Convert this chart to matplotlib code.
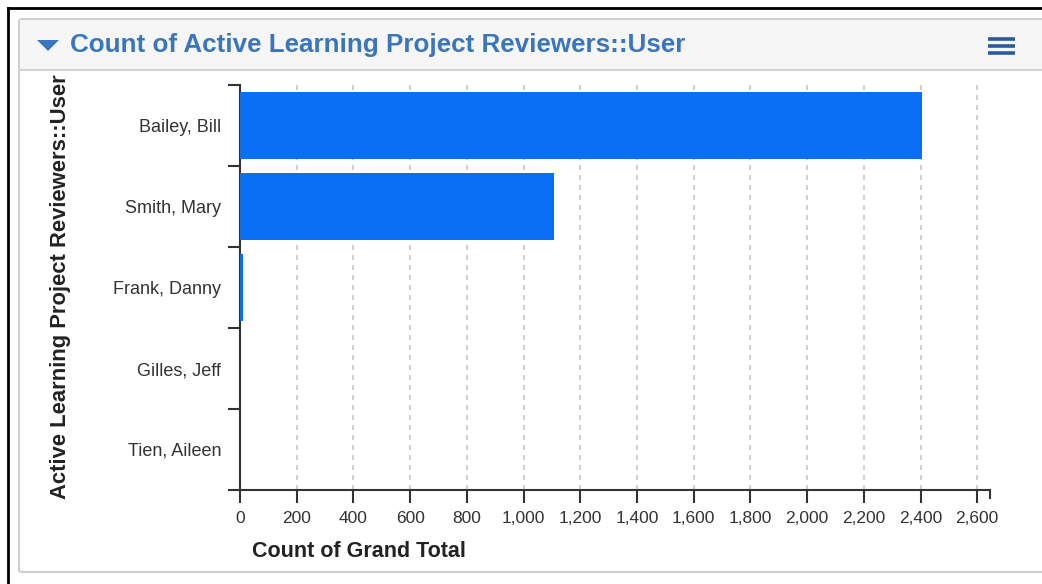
import matplotlib
matplotlib.use("Agg")
import matplotlib.pyplot as plt
from matplotlib.patches import FancyBboxPatch, Rectangle, Polygon
from matplotlib.lines import Line2D
from matplotlib.ticker import FuncFormatter, MultipleLocator

plt.rcParams['font.family'] = ['Liberation Sans', 'DejaVu Sans']

# data
reviewers = ['Bailey, Bill', 'Smith, Mary', 'Frank, Danny', 'Gilles, Jeff', 'Tien, Aileen']
counts = [2405, 1107, 10, 0, 0]

titulo = 'Count of Active Learning Project Reviewers::User'
rotulo_y = 'Active Learning Project Reviewers::User'
rotulo_x = 'Count of Grand Total'

W, H = 1042, 584
fig = plt.figure(figsize=(W / 100, H / 100), dpi=100)
fig.patch.set_facecolor('white')

def fx(px):
    return px / W

def fy(py):
    return 1 - py / H

# moldura preta externa
fig.add_artist(Line2D([fx(8), fx(8)], [fy(8), fy(584)], color='black', lw=2, transform=fig.transFigure, zorder=-5))
fig.add_artist(Line2D([fx(8), 1], [fy(8), fy(8)], color='black', lw=2, transform=fig.transFigure, zorder=-5))

# painel
painel = FancyBboxPatch((fx(19), fy(572)), fx(1050) - fx(19), fy(19) - fy(572),
                        boxstyle='round,pad=0,rounding_size=0.004', transform=fig.transFigure,
                        facecolor='white', edgecolor='#cfcfcf', lw=1.5, zorder=-5)
fig.add_artist(painel)
cabecalho = Rectangle((fx(20), fy(70)), fx(1050) - fx(20), fy(20) - fy(70), transform=fig.transFigure,
                      facecolor='#f6f6f6', edgecolor='none', zorder=-4)
fig.add_artist(cabecalho)
fig.add_artist(Line2D([fx(20), 1], [fy(70), fy(70)], color='#d4d4d4', lw=1.5,
                      transform=fig.transFigure, zorder=-3))

# triangulo e titulo
tri = Polygon([[fx(37), fy(40)], [fx(59), fy(40)], [fx(48), fy(51)]], closed=True,
              transform=fig.transFigure, facecolor='#3a76bf', edgecolor='none')
fig.add_artist(tri)
fig.text(fx(70), fy(45), titulo, color='#3a76bf', fontsize=18.7, fontweight='bold',
         va='center', ha='left')

# menu
for yy in [39, 46, 53]:
    fig.add_artist(Line2D([fx(988), fx(1015)], [fy(yy), fy(yy)], color='#2b5b9c', lw=2.6,
                          transform=fig.transFigure, solid_capstyle='butt'))

# eixo
ax = fig.add_axes([fx(240), fy(490), fx(990) - fx(240), fy(85) - fy(490)])
ax.set_zorder(5)
ax.patch.set_alpha(0)
pos = list(range(len(reviewers)))
ax.barh(pos, counts, height=0.83, color='#0a6ff5', zorder=3)
ax.set_ylim(len(reviewers) - 0.5, -0.5)
ax.set_xlim(0, 2645)

ax.xaxis.set_major_locator(MultipleLocator(200))
ax.xaxis.set_major_formatter(FuncFormatter(lambda v, p: f'{int(v):,}'))
ax.set_yticks(pos)
ax.set_yticklabels(reviewers)
ax.set_yticks([p - 0.5 for p in pos] + [len(pos) - 0.5], minor=True)
ax.tick_params(axis='y', which='major', length=0, pad=13.5, labelsize=13, labelcolor='#333333')
ax.tick_params(axis='y', which='minor', length=9, width=1.5, color='#333333')
ax.tick_params(axis='x', length=9, width=1.5, color='#333333', labelsize=12.5,
               labelcolor='#333333', pad=6)

ax.grid(axis='x', color='#c8c8c8', linestyle=(0, (3, 3)), lw=1.2, zorder=0)
for s in ['top', 'right']:
    ax.spines[s].set_visible(False)
ax.spines['left'].set_linewidth(1.5)
ax.spines['bottom'].set_linewidth(1.5)
ax.spines['left'].set_color('#333333')
ax.spines['bottom'].set_color('#333333')

# tick no fim do eixo x
ax.plot([1, 1], [0, -0.02], transform=ax.transAxes, color='#333333', lw=1.5, clip_on=False)

ax.set_xlabel(rotulo_x, fontsize=15.5, fontweight='bold', color='#222222', loc='left')
ax.xaxis.set_label_coords(12 / 750, -0.125)
fig.text(fx(61), fy(287), rotulo_y, rotation=90, fontsize=15.8, fontweight='bold',
         color='#222222', va='center', ha='center')

fig.savefig('out.png', dpi=100)
